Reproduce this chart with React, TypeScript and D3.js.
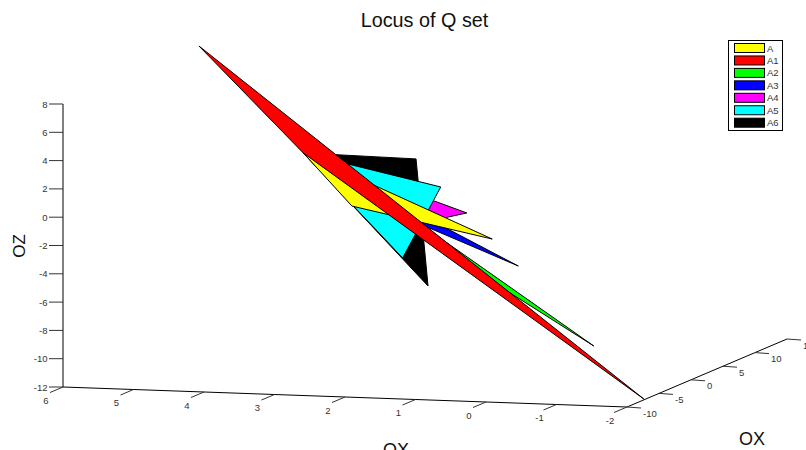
import React from "react";
import * as d3 from "d3";

const oxTicks = [6, 5, 4, 3, 2, 1, 0, -1, -2];
const oyTicks = [-10, -5, 0, 5, 10, 15];
const ozTicks = [8, 6, 4, 2, 0, -2, -4, -6, -8, -10, -12];

// Drawn back to front. All sheets lie on OY = 0.
const seriesNames = ["A6", "A4", "A3", "A2", "A5", "A", "A1"];
const seriesColors = ["#000000", "#ff00ff", "#0000ff", "#00ff00", "#00ffff", "#ffff00", "#ff0000"];
const seriesOx = [
  [3.5, 1.9, 1.73],
  [3.5, 1.18, 1.7],
  [3.5, 0.45, 1.91],
  [1.84, -0.62, 0.99],
  [3.5, 1.55, 2.09],
  [3.5, 0.82, 2.81],
  [4.98, -1.33, 3.5],
];
const seriesOz = [
  [3.06, 2.92, -6.03],
  [3.06, -0.77, -1.43],
  [3.06, -4.39, -1.54],
  [-1.67, -9.85, -5.05],
  [3.06, 1.0, -4.11],
  [3.06, -2.55, -0.57],
  [10.36, -13.47, 3.06],
];

const legendNames = ["A", "A1", "A2", "A3", "A4", "A5", "A6"];
const legendColors = ["#ffff00", "#ff0000", "#00ff00", "#0000ff", "#ff00ff", "#00ffff", "#000000"];

// Projection of the 3D box on to the page
const xRun = d3.scaleLinear().domain([6, -2]).range([0, 564]);
const xRise = d3.scaleLinear().domain([6, -2]).range([0, 20]);
const yRun = d3.scaleLinear().domain([-10, 15]).range([0, 160]);
const yRise = d3.scaleLinear().domain([-10, 15]).range([0, -68]);
const zPos = d3.scaleLinear().domain([-12, 8]).range([387, 104]);
const originX = 63;

const px = (x: number, y: number) => originX + xRun(x) + yRun(y);
const py = (x: number, y: number, z: number) => zPos(z) + xRise(x) + yRise(y);

const font = "'Liberation Sans', Arial, sans-serif";
const tickColor = "#333";
const tickSize = 9.5;
const outline = d3.line<[number, number]>().curve(d3.curveLinearClosed);

export default function App() {
  const corner = { x: px(-2, -10), y: py(-2, -10, -12) };
  const yEnd = { x: px(-2, 15), y: py(-2, 15, -12) };
  return (
    <svg
      width={806}
      height={450}
      viewBox="0 0 806 450"
      style={{ position: "absolute", left: 0, top: 0, display: "block", background: "#fff" }}
      fontFamily={font}
    >
      <text x={424.5} y={27} fontSize={19.8} textAnchor="middle" fill="#111">Locus of Q set</text>

      {/* OZ axis */}
      <line x1={originX} x2={originX} y1={zPos(8)} y2={zPos(-12)} stroke="#000" />
      {ozTicks.map((t) => (
        <g key={t}>
          <line x1={originX - 14} x2={originX} y1={zPos(t)} y2={zPos(t)} stroke="#333" />
          <text x={47.5} y={zPos(t) + 3.5} fontSize={tickSize} textAnchor="end" fill={tickColor}>{t}</text>
        </g>
      ))}
      <text transform="translate(25,246) rotate(-90)" fontSize={17} textAnchor="middle" fill="#111">OZ</text>

      {/* OX axis */}
      <line x1={px(6, -10)} y1={py(6, -10, -12)} x2={corner.x} y2={corner.y} stroke="#000" />
      {oxTicks.map((t) => {
        const x0 = px(t, -10);
        const y0 = py(t, -10, -12);
        return (
          <g key={t}>
            <line x1={x0} y1={y0} x2={x0 - 13} y2={y0 + 5.5} stroke="#333" />
            <text x={x0 - 17} y={y0 + 16.5} fontSize={tickSize} textAnchor="middle" fill={tickColor}>{t}</text>
          </g>
        );
      })}
      <text x={396} y={456} fontSize={18} textAnchor="middle" fill="#111">OX</text>

      {/* OY axis */}
      <line x1={corner.x} y1={corner.y} x2={yEnd.x} y2={yEnd.y} stroke="#000" />
      {oyTicks.map((t) => {
        const x0 = px(-2, t);
        const y0 = py(-2, t, -12);
        return (
          <g key={t}>
            <line x1={x0} y1={y0} x2={x0 + 14} y2={y0 + 1} stroke="#333" />
            <text x={x0 + 16} y={y0 + 9.5} fontSize={tickSize} fill={tickColor}>{t}</text>
          </g>
        );
      })}
      <text x={752} y={445} fontSize={18} textAnchor="middle" fill="#111">OX</text>

      {/* Sheets */}
      {seriesNames.map((name, i) => {
        const pts = seriesOx[i].map(
          (x, k) => [px(x, 0), py(x, 0, seriesOz[i][k])] as [number, number]
        );
        return (
          <path
            key={name}
            d={outline(pts) ?? ""}
            fill={seriesColors[i]}
            stroke="#000"
            strokeWidth={1}
            strokeLinejoin="miter"
          />
        );
      })}

      {/* Legend */}
      <rect x={728.5} y={40.5} width={54} height={90} fill="#fff" stroke="#000" />
      {legendNames.map((name, i) => {
        const cy = 48 + i * 12.45;
        return (
          <g key={name}>
            <rect x={734.5} y={cy - 4.5} width={30} height={9} fill={legendColors[i]} stroke="#000" />
            <text x={767} y={cy + 3.5} fontSize={tickSize} fill={tickColor}>{name}</text>
          </g>
        );
      })}
    </svg>
  );
}
